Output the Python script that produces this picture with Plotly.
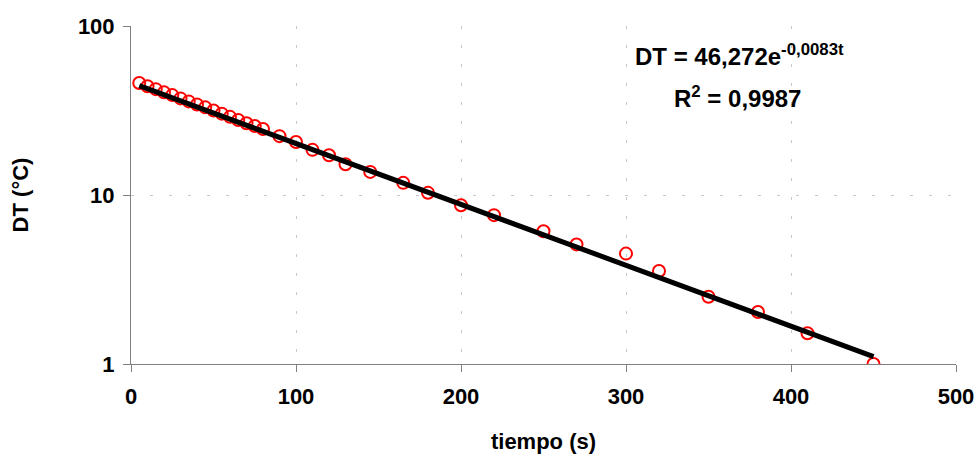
import numpy as np
import plotly.graph_objects as go

# Measured data (tiempo en s, DT en °C)
tiempo = [5, 10, 15, 20, 25, 30, 35, 40, 45, 50, 55, 60, 65, 70, 75, 80,
          90, 100, 110, 120, 130, 145, 165, 180, 200, 220, 250, 270, 300,
          320, 350, 380, 410, 450]
dt_vals = [46.0, 44.0, 42.3, 40.5, 39.0, 37.3, 35.8, 34.3, 33.0, 31.6, 30.3,
           29.0, 27.8, 26.6, 25.6, 24.6,
           22.3, 20.6, 18.5, 17.2, 15.2, 13.7, 11.8, 10.3, 8.7, 7.6, 6.1,
           5.1, 4.5, 3.55, 2.5, 2.03, 1.52, 1.0]

# Exponential trendline coefficients (as printed on the chart)
fit_a = 46.272
fit_b = -0.0083
r2_text = "0,9987"

x_ticks = [0, 100, 200, 300, 400, 500]
y_ticks = [1, 10, 100]
y_ticktext = ["1", "10", "100"]

t_fit = np.linspace(min(tiempo), max(tiempo), 50)
y_fit = fit_a * np.exp(fit_b * t_fit)

FONT = "Liberation Sans, Arial, sans-serif"

fig = go.Figure()
fig.add_trace(go.Scatter(
    x=tiempo, y=dt_vals, mode="markers",
    marker=dict(symbol="circle-open", size=12, color="#ff0000",
                line=dict(color="#ff0000", width=2)),
    showlegend=False, hoverinfo="x+y"))
fig.add_trace(go.Scatter(
    x=t_fit, y=y_fit, mode="lines",
    line=dict(color="black", width=5),
    showlegend=False, hoverinfo="skip"))

fig.update_xaxes(
    range=[0, 500], tickvals=x_ticks, automargin=False,
    showline=True, linecolor="#808080", linewidth=1,
    ticks="outside", ticklen=7, tickcolor="#808080",
    ticklabelstandoff=6,
    showgrid=True, gridcolor="#c8c8c8", griddash="3px,16px", gridwidth=1,
    zeroline=False,
    tickfont=dict(family=FONT, size=22, color="black", weight="bold"),
    title=dict(text="tiempo (s)", standoff=25,
               font=dict(family=FONT, size=22, color="black", weight="bold")),
)
fig.update_yaxes(
    type="log", range=[0, 2], tickvals=y_ticks, ticktext=y_ticktext,
    automargin=False,
    showline=True, linecolor="#808080", linewidth=1,
    ticks="outside", ticklen=7, tickcolor="#808080",
    ticklabelstandoff=4,
    showgrid=True, gridcolor="#c8c8c8", griddash="3px,16px", gridwidth=1,
    zeroline=False,
    tickfont=dict(family=FONT, size=22, color="black", weight="bold"),
    title=dict(text="DT (°C)", standoff=43,
               font=dict(family=FONT, size=22, color="black", weight="bold")),
)

fig.add_annotation(
    xref="paper", yref="paper", x=0.737, y=0.914, showarrow=False,
    xanchor="center", yanchor="middle",
    text="DT = 46,272e<sup>-0,0083t</sup>",
    font=dict(family=FONT, size=24, color="black", weight="bold"))
fig.add_annotation(
    xref="paper", yref="paper", x=0.735, y=0.79, showarrow=False,
    xanchor="center", yanchor="middle",
    text="R<sup>2</sup> = " + r2_text,
    font=dict(family=FONT, size=24, color="black", weight="bold"))

fig.update_layout(
    width=977, height=456,
    margin=dict(l=131, r=21, t=26, b=92),
    paper_bgcolor="white", plot_bgcolor="white",
)

# Remove the default page margin so the figure fills the window exactly.
fig.write_html(
    "out.html",
    config={"displayModeBar": False},
    post_script="document.body.style.margin='0';document.body.style.overflow='hidden';",
)
